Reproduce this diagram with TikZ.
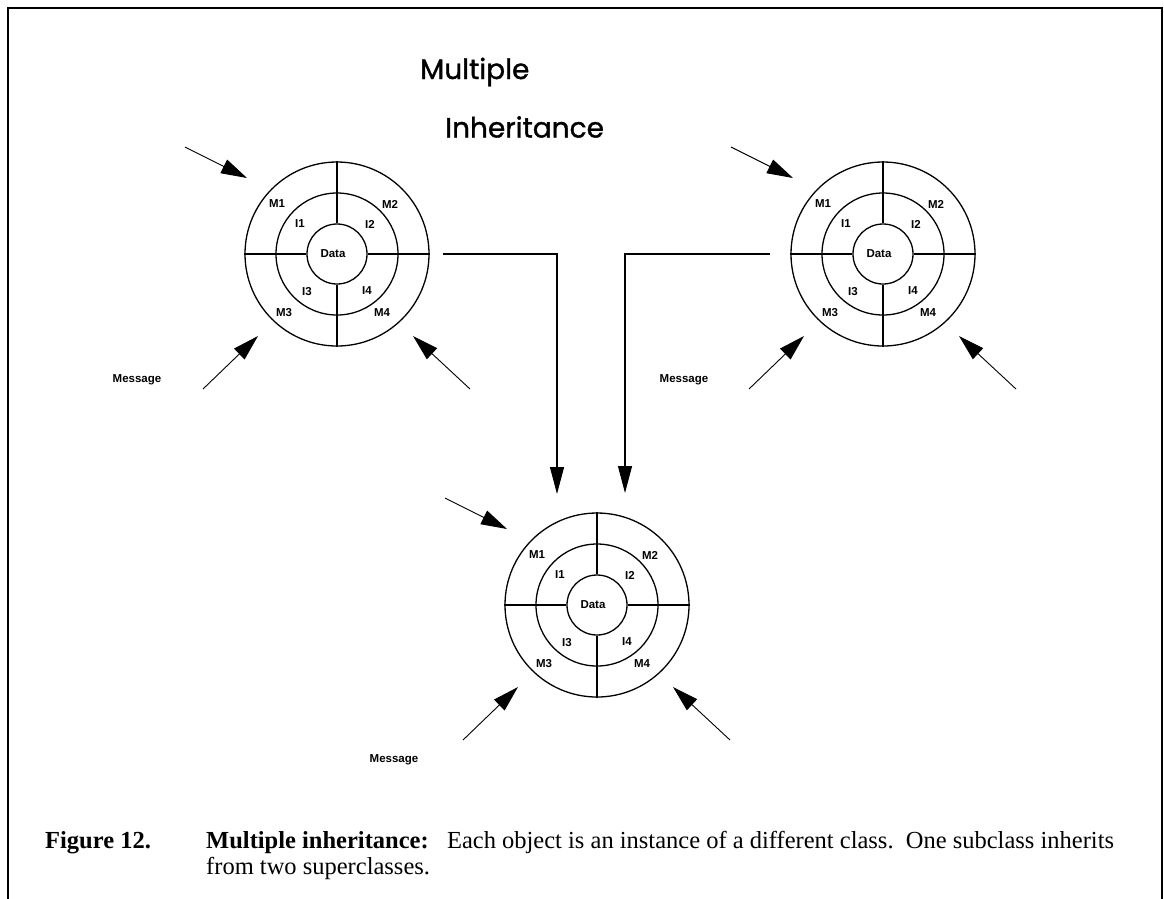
\documentclass[tikz,border=0pt]{standalone}
\usepackage{fontspec}
\setmainfont{Liberation Serif}
\newfontfamily\labelfont{Liberation Sans}
\newfontfamily\titlefont[FakeBold=1.2]{Poppins}
\usetikzlibrary{arrows.meta}

\tikzset{
  ring/.style={circle, draw, inner sep=0pt, line width=1.3pt},
  spoke/.style={line width=1.3pt},
  tag/.style={font=\labelfont\bfseries\fontsize{11.5}{11.5}\selectfont, inner sep=0pt},
  msgarrow/.style={line width=0.9pt, -{Triangle[length=26pt,width=15pt]}},
  inherit/.style={line width=1.1pt, -{Triangle[length=27pt,width=14pt]}},
  heading/.style={font=\titlefont\fontsize{28}{28}\selectfont, anchor=west, inner sep=0pt},
  captext/.style={anchor=base west, inner sep=0pt, font=\fontsize{24.5}{26}\selectfont},
}

% one object: three rings, four spokes, slot labels and three message arrows
\newcommand\classobject[2]{%
  \begin{scope}[shift={(#2)}]
    \node[ring, minimum size=184pt] (#1out) at (0,0) {};
    \node[ring, minimum size=122pt] (#1mid) at (0,0) {};
    \node[ring, minimum size=60pt]  (#1in)  at (0,0) {};
    \draw[spoke] (#1in.north) -- (#1out.north);
    \draw[spoke] (#1in.south) -- (#1out.south);
    \draw[spoke] (#1in.west)  -- (#1out.west);
    \draw[spoke] (#1in.east)  -- (#1out.east);
    \node[tag] (#1data) at (-4,0)   {Data};
    \node[tag] (#1ia)   at (-37,-30) {I1};
    \node[tag] (#1ib)   at (33,-30)  {I2};
    \node[tag] (#1ic)   at (-30,38)  {I3};
    \node[tag] (#1id)   at (30,37)   {I4};
    \node[tag] (#1ma)   at (-60,-50) {M1};
    \node[tag] (#1mb)   at (53,-50)  {M2};
    \node[tag] (#1mc)   at (-53,59)  {M3};
    \node[tag] (#1md)   at (45,59)   {M4};
    \coordinate (#1ta) at (-152,-107);
    \coordinate (#1ha) at (-90,-76);
    \coordinate (#1tb) at (-134,135);
    \coordinate (#1hb) at (-79,82);
    \coordinate (#1tc) at (133,135);
    \coordinate (#1hc) at (76,82);
    \draw[msgarrow] (#1ta) -- (#1ha);
    \draw[msgarrow] (#1tb) -- (#1hb);
    \draw[msgarrow] (#1tc) -- (#1hc);
  \end{scope}}

\begin{document}
\begin{tikzpicture}[x=1pt, y=-1pt]
  \useasboundingbox (0,0) rectangle (1164,898);
  \fill[white] (0,0) rectangle (1164,898);

  % frame, open at the bottom of the page
  \draw[line width=2.2pt] (8,910) -- (8,8) -- (1162,8) -- (1162,910);

  % heading
  \node[heading] (h1) at (420,72)  {Multiple};
  \node[heading] (h2) at (445,127) {Inheritance};

  % the three objects
  \classobject{a}{337,254}
  \classobject{b}{883,254}
  \classobject{c}{597,605}

  % message labels
  \node[tag] (msga) at (137,380) {Message};
  \node[tag] (msgb) at (684,380) {Message};
  \node[tag] (msgc) at (394,760) {Message};

  % inheritance links from the two superclasses to the subclass
  \coordinate (la) at (443,254);
  \coordinate (lb) at (557,254);
  \coordinate (lc) at (557,494);
  \coordinate (ra) at (770,254);
  \coordinate (rb) at (625,254);
  \coordinate (rc) at (625,493);
  \draw[inherit] (la) -- (lb) -- (lc);
  \draw[inherit] (ra) -- (rb) -- (rc);

  % caption
  \node[captext, font=\fontsize{24.5}{26}\selectfont\bfseries] (fig) at (45,848) {Figure 12.};
  \node[captext] (cap1) at (206,848)
    {\textbf{Multiple inheritance:}\ \ \ Each object is an instance of a different class.\ \ One subclass inherits};
  \node[captext] (cap2) at (206,874) {from two superclasses.};
\end{tikzpicture}
\end{document}
